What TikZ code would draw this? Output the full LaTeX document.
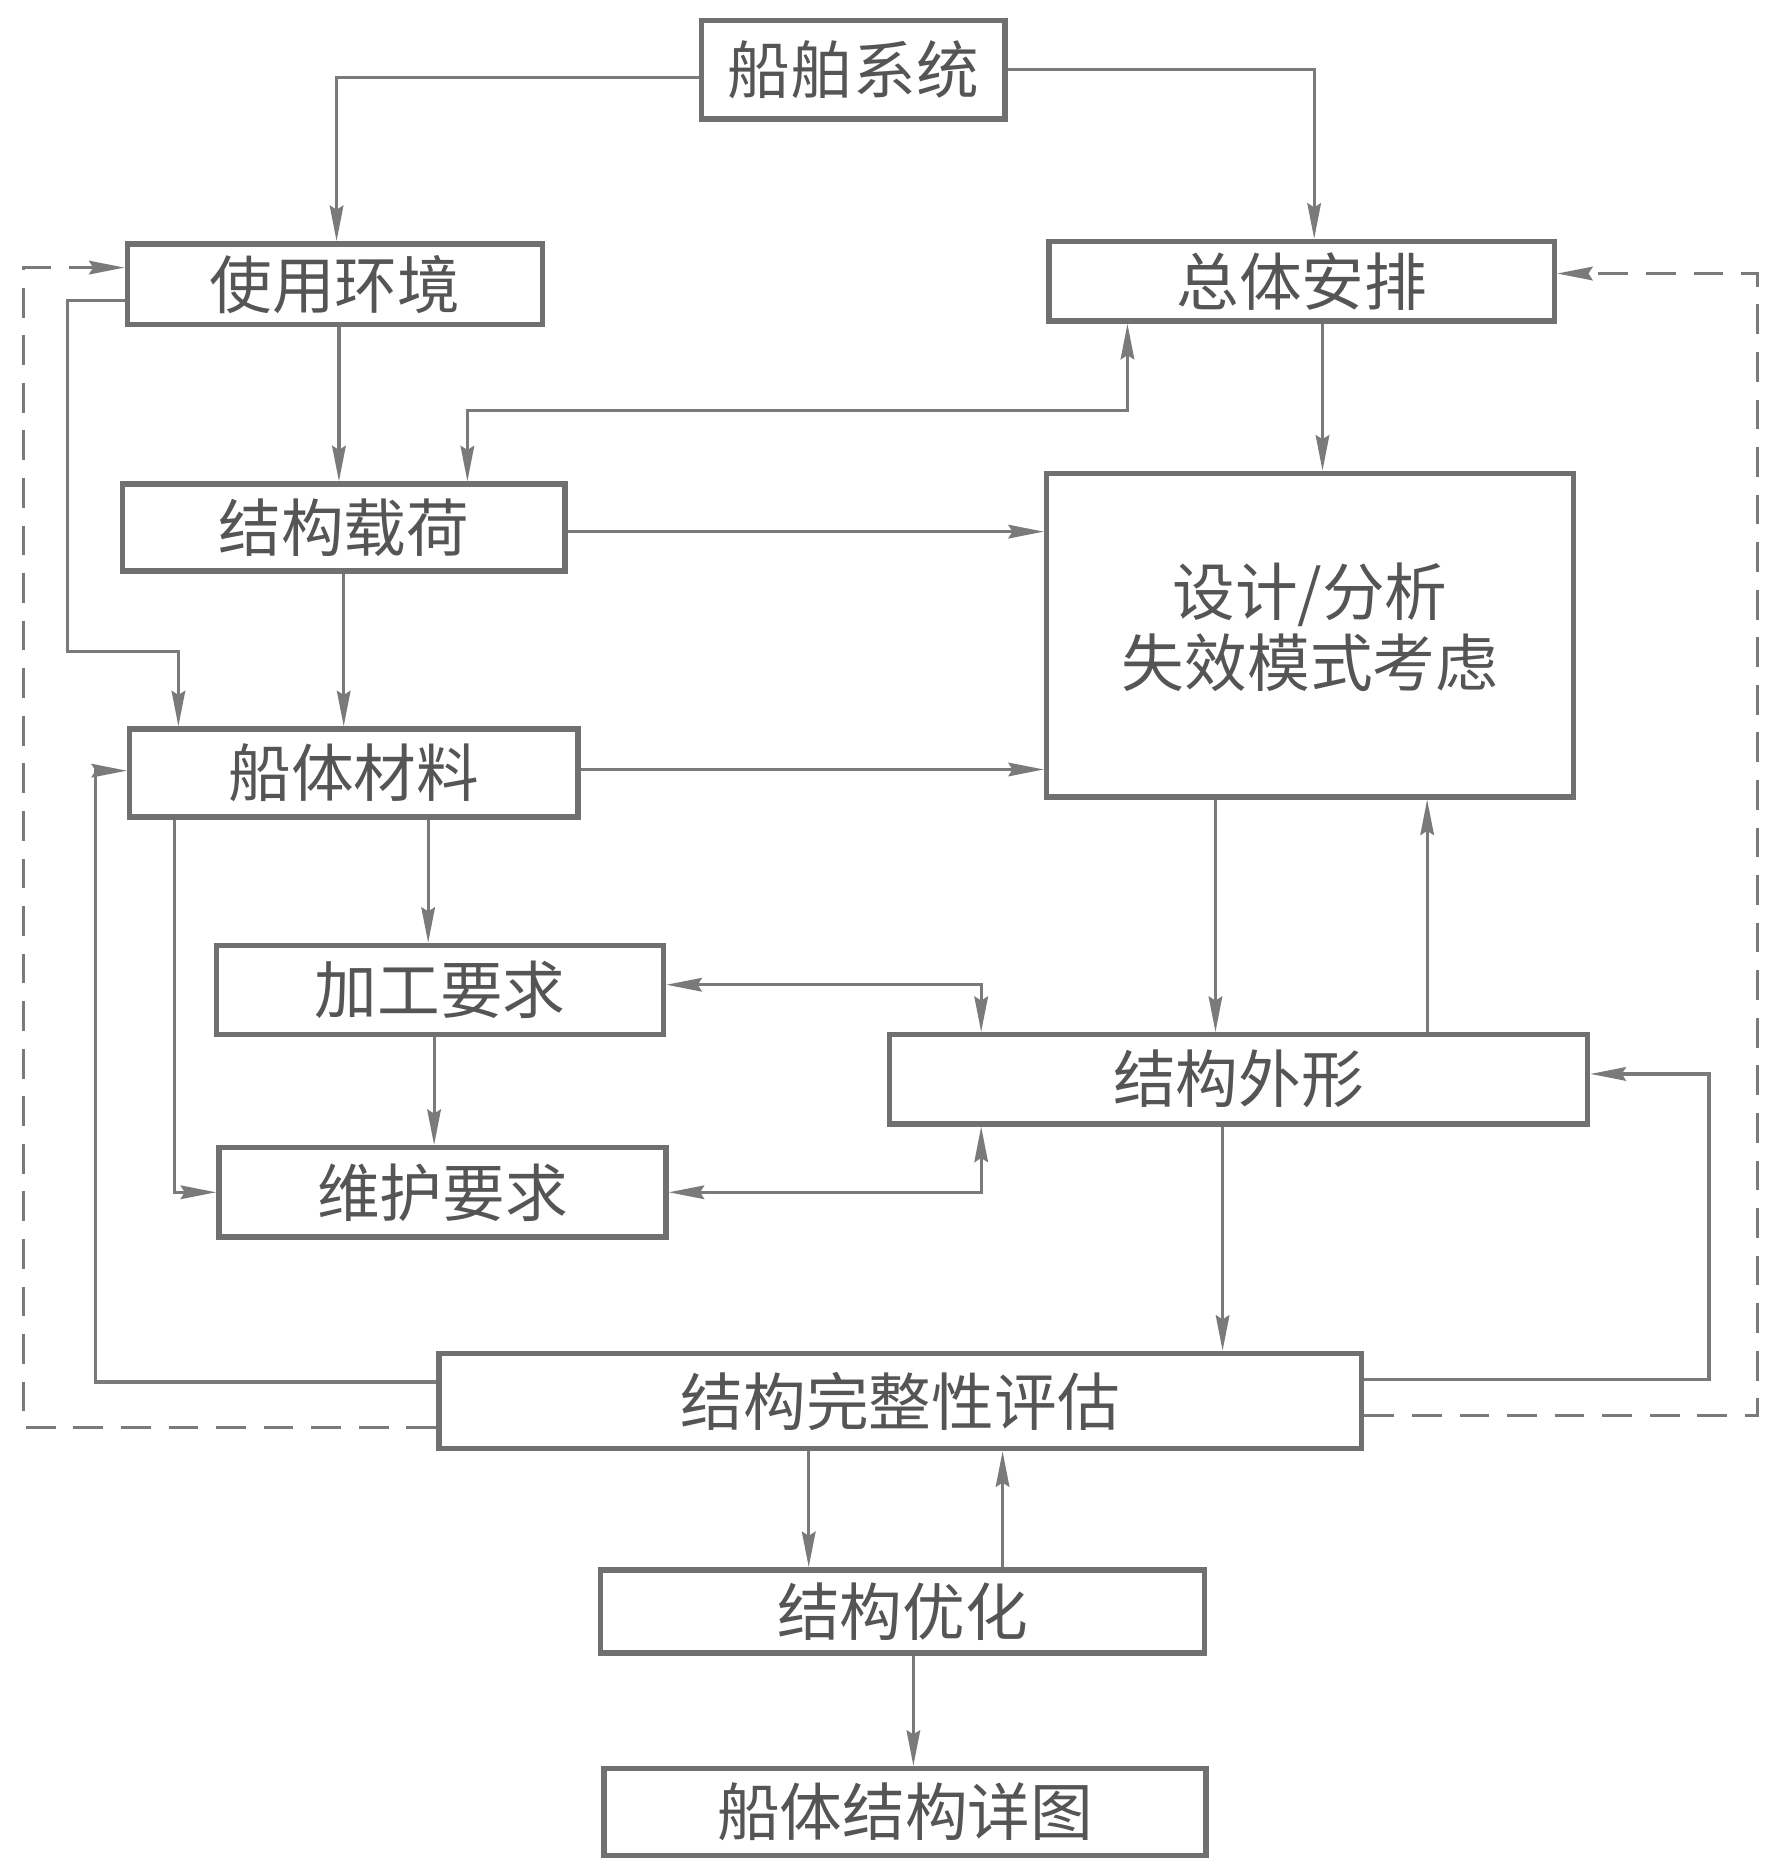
\documentclass[tikz,border=0pt]{standalone}
\usepackage{fontspec}
\setmainfont{Noto Sans CJK SC}
\usetikzlibrary{arrows.meta}
\definecolor{boxc}{HTML}{707070}
\definecolor{linec}{HTML}{7A7A7A}
\definecolor{txtc}{HTML}{555555}
\newdimen\pxu
\pxu=0.02cm
\tikzset{
  blk/.style={draw=boxc, line width=2.6pt, inner sep=0pt, text=txtc,
    font=\fontsize{30}{34}\selectfont, align=center},
  conn/.style={draw=linec, line width=1.5pt},
  arr/.style={conn, -{Stealth[length=17pt,width=6.5pt,inset=2pt]}},
  arrb/.style={conn, {Stealth[length=17pt,width=6.5pt,inset=2pt]}-{Stealth[length=17pt,width=6.5pt,inset=2pt]}},
  dsh/.style={arr, dash pattern=on 0.5cm off 0.3cm}
}
\begin{document}
\begin{tikzpicture}[x=0.02cm, y=-0.02cm]
\useasboundingbox (0,0) rectangle (1495,1569);
% boxes
\node[blk, minimum width=255\pxu, minimum height=83\pxu] (sys) at (717.5,58.5) {船舶系统};
\node[blk, minimum width=349\pxu, minimum height=68\pxu] (env) at (281.5,239) {使用环境};
\node[blk, minimum width=425\pxu, minimum height=67\pxu] (gen) at (1094.5,236.5) {总体安排};
\node[blk, minimum width=372\pxu, minimum height=73\pxu] (load) at (289,443.5) {结构载荷};
\node[blk, minimum width=443\pxu, minimum height=272\pxu] (des) at (1101.5,534) {设计/分析\\失效模式考虑\\[-24pt]};
\node[blk, minimum width=377\pxu, minimum height=74\pxu] (mat) at (297.5,650) {船体材料};
\node[blk, minimum width=376\pxu, minimum height=75\pxu] (proc) at (370,832.5) {加工要求};
\node[blk, minimum width=587\pxu, minimum height=75\pxu] (shape) at (1041.5,907.5) {结构外形};
\node[blk, minimum width=376\pxu, minimum height=75\pxu] (maint) at (372,1002.5) {维护要求};
\node[blk, minimum width=776\pxu, minimum height=80\pxu] (integ) at (757,1178) {结构完整性评估};
\node[blk, minimum width=508\pxu, minimum height=70\pxu] (opt) at (759,1355) {结构优化};
\node[blk, minimum width=506\pxu, minimum height=73\pxu] (det) at (761,1523.5) {船体结构详图};
% helper coordinates
\coordinate (c4) at (57,548);
\coordinate (c6) at (948,345);
\coordinate (c18) at (1437,903);
\coordinate (c19) at (80,648);
\coordinate (c20) at (20,225);
\coordinate (c21) at (1478,230);
% connectors
\draw[arr] ([yshift=-6.5\pxu]sys.west) -| ([xshift=1.5\pxu]env.north);
\draw[arr] (sys.east) -| ([xshift=10.5\pxu]gen.north);
\draw[arr] ([xshift=3.5\pxu]env.south) -- ([xshift=3.5\pxu]env.south |- load.north);
\draw[arr] ([yshift=-14\pxu]env.west) -| (c4) -| ([xshift=-147.5\pxu]mat.north);
\draw[arr] ([xshift=17.5\pxu]gen.south) -- ([xshift=17.5\pxu]gen.south |- des.north);
\draw[arrb] ([xshift=104\pxu]load.north) |- (c6) -- ([xshift=-146.5\pxu]gen.south);
\draw[arr] ([yshift=-3.5\pxu]load.east) -- ([yshift=-3.5\pxu]load.east -| des.west);
\draw[arr] (load.south) -- (load.south |- mat.north);
\draw[arr] ([yshift=3\pxu]mat.east) -- ([yshift=3\pxu]mat.east -| des.west);
\draw[arr] ([xshift=62.5\pxu]mat.south) -- ([xshift=62.5\pxu]mat.south |- proc.north);
\draw[arr] ([xshift=-150.5\pxu]mat.south) |- (maint.west);
\draw[arr] ([xshift=-5\pxu]proc.south) -- ([xshift=-5\pxu]proc.south |- maint.north);
\draw[arrb] ([yshift=4.5\pxu]proc.east) -| ([xshift=-216.5\pxu]shape.north);
\draw[arrb] (maint.east) -| ([xshift=-216.5\pxu]shape.south);
\draw[arr] ([xshift=-79.5\pxu]des.south) -- ([xshift=-79.5\pxu]des.south |- shape.north);
\draw[arr] ([xshift=158.5\pxu]shape.north) -- ([xshift=158.5\pxu]shape.north |- des.south);
\draw[arr] ([xshift=-13.5\pxu]shape.south) -- ([xshift=-13.5\pxu]shape.south |- integ.north);
\draw[arr] ([yshift=18\pxu]integ.east) -| (c18) -- ([yshift=4.5\pxu]shape.east);
\draw[arr] ([yshift=16\pxu]integ.west) -| (c19) -- (c19 -| mat.west);
\draw[dsh] ([yshift=-22\pxu]integ.west) -| (c20) -- (c20 -| env.west);
\draw[dsh] ([yshift=-12\pxu]integ.east) -| (c21) -- (c21 -| gen.east);
\draw[arr] ([xshift=-77\pxu]integ.south) -- ([xshift=-77\pxu]integ.south |- opt.north);
\draw[arr] ([xshift=84\pxu]opt.north) -- ([xshift=84\pxu]opt.north |- integ.south);
\draw[arr] ([xshift=9\pxu]opt.south) -- ([xshift=9\pxu]opt.south |- det.north);
\end{tikzpicture}
\end{document}
